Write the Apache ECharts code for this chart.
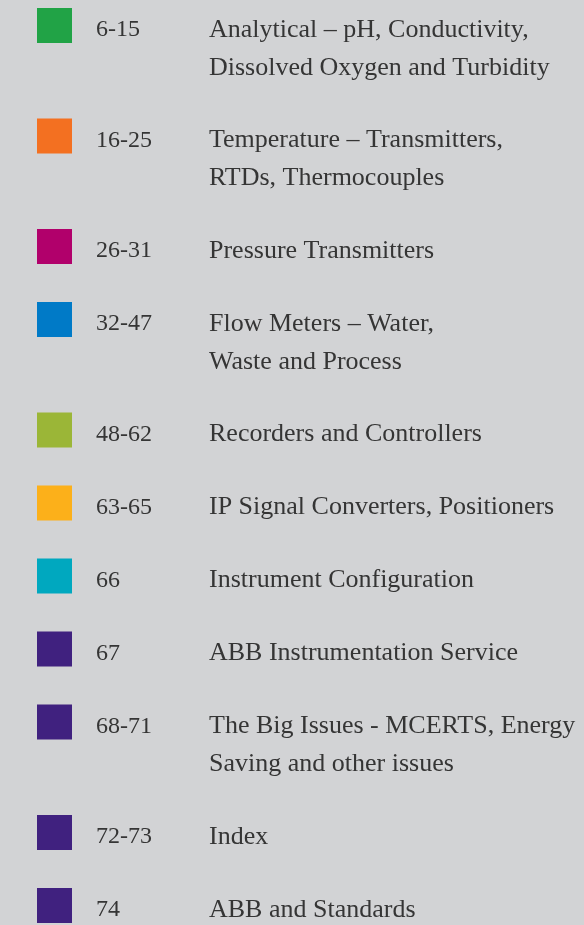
<!DOCTYPE html>
<html>
<head>
<meta charset="utf-8">
<script src="https://cdn.jsdelivr.net/npm/echarts@6/dist/echarts.min.js"></script>
<style>
html,body{margin:0;padding:0;background:#d2d3d5;}
#chart{width:584px;height:925px;}
</style>
</head>
<body>
<div id="chart"></div>
<script>
// ---- data ----
const pageRanges = ['6-15', '16-25', '26-31', '32-47', '48-62', '63-65', '66', '67', '68-71', '72-73', '74'];
const sectionTitles = [
  'Analytical – pH, Conductivity,\nDissolved Oxygen and Turbidity',
  'Temperature – Transmitters,\nRTDs, Thermocouples',
  'Pressure Transmitters',
  'Flow Meters – Water,\nWaste and Process',
  'Recorders and Controllers',
  'IP Signal Converters, Positioners',
  'Instrument Configuration',
  'ABB Instrumentation Service',
  'The Big Issues - MCERTS, Energy\nSaving and other issues',
  'Index',
  'ABB and Standards'
];
const swatchColors = ['#21a346', '#f37021', '#b1006b', '#007ac7', '#9bb637', '#fcb01a', '#00a8bf', '#40217f', '#40217f', '#40217f', '#40217f'];

// ---- layout (derived from line counts) ----
const rowTops = [];
let cursor = 8;
sectionTitles.forEach(t => {
  rowTops.push(cursor);
  cursor += t.split('\n').length > 1 ? 110.5 : 73;
});

const chart = echarts.init(document.getElementById('chart'), null, {renderer: 'canvas'});
const FONT = '"Liberation Serif", "Times New Roman", serif';
const TEXT_COLOR = '#353535';

chart.setOption({
  backgroundColor: '#d2d3d5',
  animation: false,
  grid: {left: 0, right: 0, top: 0, bottom: 0},
  xAxis: {type: 'value', min: 0, max: 584, show: false},
  yAxis: {type: 'value', min: 0, max: 925, inverse: true, show: false},
  series: [{
    type: 'custom',
    silent: true,
    data: pageRanges.map((p, i) => [i, rowTops[i]]),
    renderItem: function (params, api) {
      const i = api.value(0);
      const top = api.value(1);
      const p0 = api.coord([37, top]);
      const p1 = api.coord([72, top + 35]);
      const lines = sectionTitles[i].split('\n');
      const children = [{
        type: 'rect',
        shape: {x: p0[0], y: p0[1], width: p1[0] - p0[0], height: p1[1] - p0[1]},
        style: {fill: swatchColors[i]}
      }, {
        type: 'text',
        x: api.coord([96, 0])[0],
        y: api.coord([0, top + 22])[1],
        style: {text: pageRanges[i], font: '24px ' + FONT, fill: TEXT_COLOR, verticalAlign: 'middle', align: 'left'}
      }];
      lines.forEach((ln, k) => {
        children.push({
          type: 'text',
          x: api.coord([209, 0])[0],
          y: api.coord([0, top + 22 + k * 38])[1],
          style: {text: ln, font: '26px ' + FONT, fill: TEXT_COLOR, verticalAlign: 'middle', align: 'left'}
        });
      });
      return {type: 'group', children: children};
    }
  }]
});
</script>
</body>
</html>
